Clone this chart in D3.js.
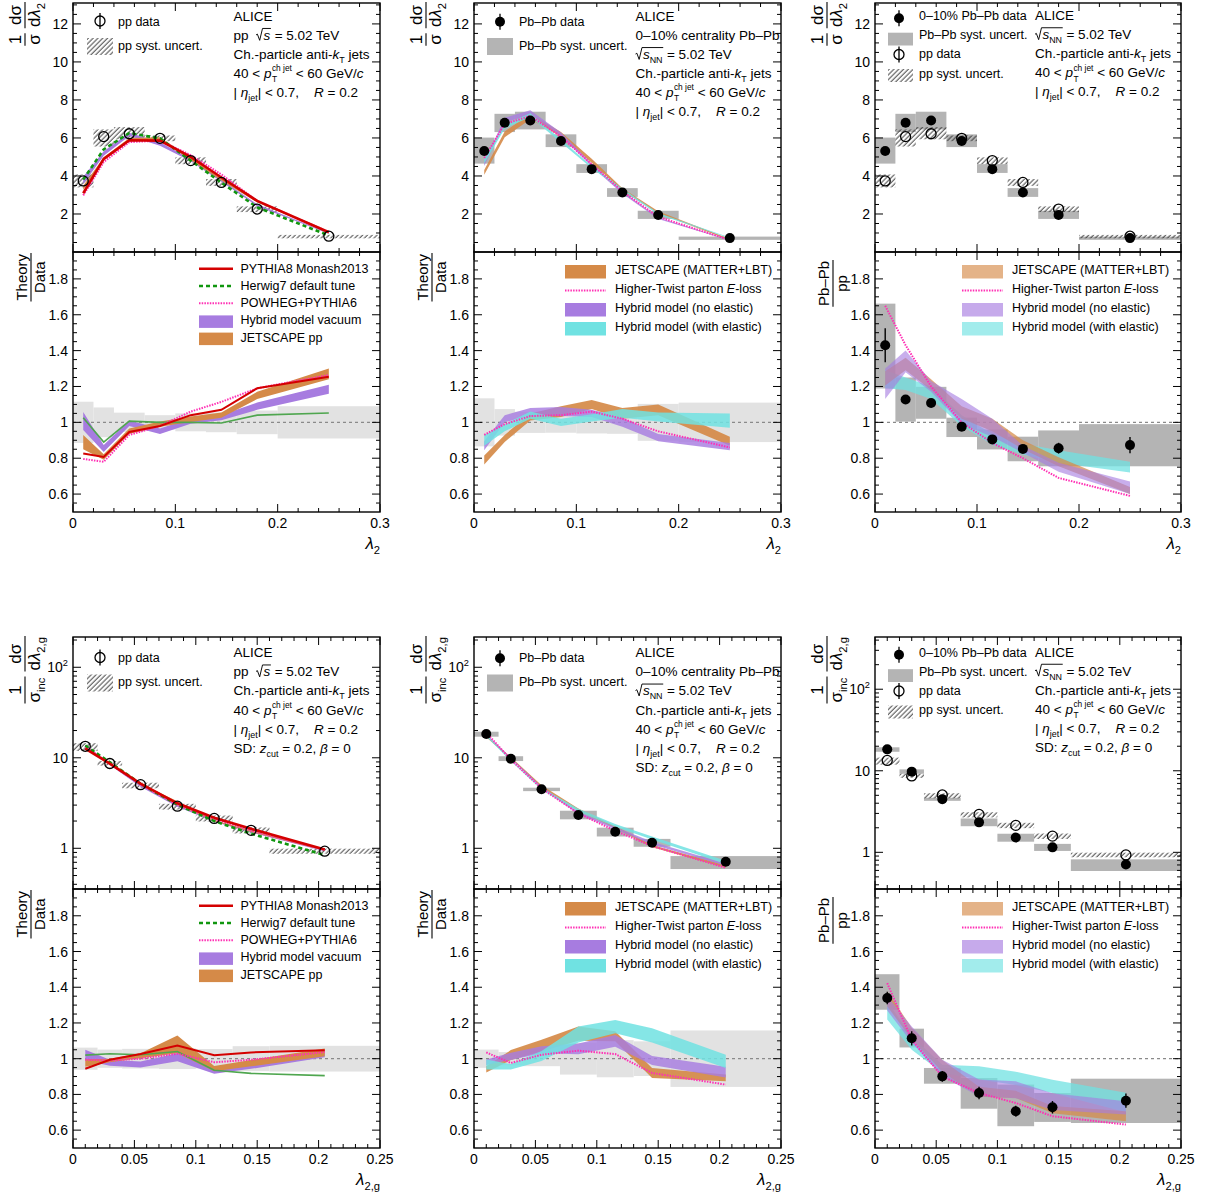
<!DOCTYPE html>
<html><head><meta charset="utf-8">
<script src="https://cdn.jsdelivr.net/npm/d3@7/dist/d3.min.js"></script>
<style>
html,body{margin:0;padding:0;background:#fff;}
text{font-family:"Liberation Sans",Arial,Helvetica,sans-serif;white-space:pre;fill:#000;}
</style></head><body>
<svg id="chart" width="1216" height="1195" xmlns="http://www.w3.org/2000/svg"></svg>
<script>
// ================= DATA: lambda_2 (top row) =================
const L2_X     = [0.01, 0.03, 0.055, 0.085, 0.115, 0.145, 0.18, 0.25];
const L2_EDGES = [0, 0.02, 0.04, 0.07, 0.10, 0.13, 0.16, 0.20, 0.30];
const L2_X_TICKS = [0, 0.1, 0.2, 0.3];
const L2_Y_TICKS = [2, 4, 6, 8, 10, 12];
const RATIO_Y_TICKS = [0.6, 0.8, 1, 1.2, 1.4, 1.6, 1.8];

const L2_PP        = [3.74, 6.07, 6.22, 5.98, 4.81, 3.66, 2.26, 0.83];
const L2_PP_SYS_LO = [3.40, 5.55, 5.93, 5.83, 4.62, 3.48, 2.10, 0.72];
const L2_PP_SYS_HI = [4.08, 6.45, 6.57, 6.13, 4.98, 3.84, 2.40, 0.90];
const L2_PBPB        = [5.31, 6.80, 6.92, 5.84, 4.36, 3.13, 1.95, 0.73];
const L2_PBPB_SYS_LO = [4.65, 6.31, 6.45, 5.52, 4.16, 2.90, 1.74, 0.64];
const L2_PBPB_SYS_HI = [6.02, 7.27, 7.38, 6.19, 4.62, 3.36, 2.17, 0.81];
const L2_PP_UNC   = [0.115, 0.083, 0.054, 0.040, 0.050, 0.055, 0.066, 0.090];
const L2_PBPB_UNC = [0.134, 0.074, 0.059, 0.058, 0.062, 0.064, 0.103, 0.110];

const L2_PYTHIA = [3.09, 4.90, 5.88, 5.86, 5.00, 3.92, 2.69, 1.04];
const L2_HERWIG = [3.81, 5.40, 6.26, 5.98, 4.81, 3.65, 2.35, 0.87];
const L2_POWHEG = [2.98, 4.73, 5.78, 5.86, 5.10, 4.08, 2.69, 1.05];
const L2_HYBVAC     = [3.77, 5.18, 6.19, 5.68, 4.84, 3.76, 2.46, 0.98];
const L2_HYBVAC_ERR = [0.19, 0.12, 0.09, 0.09, 0.07, 0.06, 0.05, 0.02];
const L2_JSPP       = [3.38, 4.90, 5.91, 5.97, 4.89, 3.81, 2.64, 1.06];
const L2_JSPP_ERR   = [0.11, 0.09, 0.09, 0.07, 0.06, 0.05, 0.04, 0.02];

const L2_PYTHIA_R = [0.826, 0.807, 0.946, 0.98, 1.04, 1.07, 1.19, 1.254];
const L2_HERWIG_R = [1.026, 0.89, 1.007, 1.0, 1.0, 0.996, 1.04, 1.052];
const L2_POWHEG_R = [0.796, 0.78, 0.93, 0.98, 1.06, 1.114, 1.19, 1.264];
const L2_HYBVAC_R     = [1.007, 0.854, 0.995, 0.95, 1.007, 1.026, 1.09, 1.185];
const L2_HYBVAC_R_ERR = [0.05, 0.02, 0.015, 0.015, 0.015, 0.015, 0.02, 0.025];
const L2_JSPP_R       = [0.89, 0.807, 0.95, 0.99, 1.017, 1.04, 1.15, 1.27];
const L2_JSPP_R_ERR   = [0.04, 0.015, 0.015, 0.015, 0.015, 0.015, 0.02, 0.03];

const L2_JSAA        = [4.19, 6.19, 7.13, 6.19, 4.80, 3.29, 2.09, 0.65];
const L2_JSAA_ERR    = [0.12, 0.15, 0.15, 0.12, 0.10, 0.07, 0.05, 0.03];
const L2_HT          = [4.94, 6.73, 7.16, 6.07, 4.62, 3.19, 1.85, 0.63];
const L2_HYBNOEL     = [4.62, 6.94, 7.34, 6.19, 4.58, 3.13, 1.78, 0.63];
const L2_HYBNOEL_ERR = [0.10, 0.12, 0.12, 0.10, 0.08, 0.06, 0.04, 0.02];
const L2_HYBEL       = [4.78, 6.60, 7.20, 5.84, 4.47, 3.29, 2.01, 0.74];
const L2_HYBEL_ERR   = [0.12, 0.10, 0.10, 0.08, 0.06, 0.05, 0.04, 0.02];

const L2_JSAA_R        = [0.79, 0.91, 1.03, 1.06, 1.10, 1.05, 1.07, 0.895];
const L2_JSAA_R_ERR    = [0.025, 0.02, 0.02, 0.03, 0.025, 0.03, 0.03, 0.025];
const L2_HT_R          = [0.93, 0.99, 1.035, 1.04, 1.06, 1.02, 0.95, 0.86];
const L2_HYBNOEL_R     = [0.87, 1.02, 1.06, 1.06, 1.05, 1.0, 0.915, 0.865];
const L2_HYBNOEL_R_ERR = [0.025, 0.02, 0.02, 0.025, 0.02, 0.025, 0.02, 0.02];
const L2_HYBEL_R       = [0.90, 0.97, 1.04, 1.0, 1.025, 1.05, 1.03, 1.01];
const L2_HYBEL_R_ERR   = [0.03, 0.02, 0.02, 0.02, 0.02, 0.025, 0.025, 0.04];

const L2_RAA        = [1.43, 1.127, 1.108, 0.976, 0.905, 0.852, 0.856, 0.873];
const L2_RAA_STAT   = [0.095, 0.022, 0.02, 0.02, 0.02, 0.02, 0.03, 0.045];
const L2_RAA_SYS_LO = [1.189, 1.004, 1.02, 0.918, 0.849, 0.783, 0.755, 0.755];
const L2_RAA_SYS_HI = [1.662, 1.25, 1.198, 1.026, 0.96, 0.92, 0.955, 0.99];
const L2_JSAA_RAA        = [1.245, 1.325, 1.21, 1.055, 0.985, 0.875, 0.78, 0.62];
const L2_JSAA_RAA_ERR    = [0.04, 0.035, 0.03, 0.035, 0.035, 0.025, 0.025, 0.02];
const L2_HT_RAA          = [1.65, 1.43, 1.2, 1.0, 0.885, 0.8, 0.69, 0.59];
const L2_HYBNOEL_RAA     = [1.215, 1.34, 1.2, 1.06, 0.97, 0.85, 0.75, 0.635];
const L2_HYBNOEL_RAA_ERR = [0.085, 0.06, 0.03, 0.07, 0.05, 0.02, 0.025, 0.035];
const L2_HYBEL_RAA       = [1.24, 1.215, 1.165, 1.01, 0.905, 0.85, 0.81, 0.75];
const L2_HYBEL_RAA_ERR   = [0.05, 0.035, 0.035, 0.03, 0.03, 0.03, 0.035, 0.03];

// ================= DATA: lambda_2,g (bottom row) =================
const L2G_X     = [0.01, 0.03, 0.055, 0.085, 0.115, 0.145, 0.205];
const L2G_EDGES = [0, 0.02, 0.04, 0.07, 0.10, 0.13, 0.16, 0.25];
const L2G_X_TICKS = [0, 0.05, 0.1, 0.15, 0.2, 0.25];
const LOG_Y_TICKS = [1, 10, 100];

const L2G_PP        = [13.4, 8.65, 5.05, 2.92, 2.14, 1.58, 0.93];
const L2G_PP_SYS_LO = [11.9, 8.2, 4.6, 2.68, 1.98, 1.46, 0.87];
const L2G_PP_SYS_HI = [14.5, 9.2, 5.3, 3.1, 2.3, 1.7, 0.99];
const L2G_PBPB        = [18.3, 9.76, 4.49, 2.33, 1.52, 1.15, 0.71];
const L2G_PBPB_SYS_LO = [17.1, 9.2, 4.28, 2.09, 1.35, 1.04, 0.59];
const L2G_PBPB_SYS_HI = [19.4, 10.4, 4.67, 2.6, 1.69, 1.27, 0.82];
const L2G_PP_UNC   = [0.062, 0.051, 0.055, 0.058, 0.054, 0.07, 0.072];
const L2G_PBPB_UNC = [0.051, 0.037, 0.042, 0.089, 0.104, 0.097, 0.158];

const L2G_PYTHIA = [12.65, 8.6, 5.18, 3.14, 2.18, 1.64, 0.97];
const L2G_HERWIG = [13.67, 8.89, 5.16, 3.04, 2.0, 1.45, 0.84];
const L2G_POWHEG = [13.32, 8.56, 5.05, 3.0, 2.1, 1.57, 0.96];
const L2G_HYBVAC     = [13.67, 8.45, 4.88, 2.94, 1.99, 1.52, 0.95];
const L2G_HYBVAC_ERR = [0.3, 0.15, 0.08, 0.06, 0.03, 0.03, 0.02];
const L2G_JSPP       = [13.07, 8.56, 5.14, 3.15, 2.02, 1.54, 0.96];
const L2G_JSPP_ERR   = [0.3, 0.1, 0.07, 0.15, 0.03, 0.03, 0.02];

const L2G_PYTHIA_R = [0.944, 0.994, 1.026, 1.074, 1.019, 1.035, 1.047];
const L2G_HERWIG_R = [1.02, 1.028, 1.022, 1.04, 0.935, 0.918, 0.905];
const L2G_POWHEG_R = [0.994, 0.99, 1.0, 1.028, 0.98, 0.994, 1.037];
const L2G_HYBVAC_R     = [1.02, 0.977, 0.967, 1.008, 0.932, 0.96, 1.02];
const L2G_HYBVAC_R_ERR = [0.03, 0.017, 0.017, 0.022, 0.016, 0.017, 0.012];
const L2G_JSPP_R       = [0.975, 0.99, 1.017, 1.08, 0.944, 0.975, 1.035];
const L2G_JSPP_R_ERR   = [0.02, 0.01, 0.014, 0.05, 0.015, 0.018, 0.022];

const L2G_JSAA        = [17.2, 9.96, 4.82, 2.66, 1.71, 1.06, 0.63];
const L2G_JSAA_ERR    = [0.3, 0.25, 0.15, 0.1, 0.05, 0.03, 0.02];
const L2G_HT          = [18.94, 9.53, 4.59, 2.43, 1.56, 1.06, 0.61];
const L2G_HYBNOEL     = [17.93, 9.89, 4.71, 2.46, 1.67, 1.14, 0.66];
const L2G_HYBNOEL_ERR = [0.35, 0.2, 0.1, 0.08, 0.05, 0.04, 0.02];
const L2G_HYBEL       = [17.7, 9.32, 4.56, 2.64, 1.79, 1.3, 0.7];
const L2G_HYBEL_ERR   = [0.5, 0.15, 0.12, 0.1, 0.06, 0.05, 0.03];

const L2G_JSAA_R        = [0.94, 1.02, 1.073, 1.14, 1.125, 0.92, 0.892];
const L2G_JSAA_R_ERR    = [0.017, 0.028, 0.033, 0.04, 0.028, 0.028, 0.019];
const L2G_HT_R          = [1.035, 0.976, 1.022, 1.045, 1.026, 0.92, 0.855];
const L2G_HYBNOEL_R     = [0.98, 1.013, 1.05, 1.055, 1.1, 0.99, 0.925];
const L2G_HYBNOEL_R_ERR = [0.015, 0.02, 0.02, 0.03, 0.033, 0.025, 0.03];
const L2G_HYBEL_R       = [0.967, 0.955, 1.015, 1.135, 1.18, 1.13, 0.985];
const L2G_HYBEL_R_ERR   = [0.028, 0.015, 0.028, 0.045, 0.037, 0.04, 0.037];

const L2G_RAA        = [1.34, 1.114, 0.901, 0.808, 0.706, 0.728, 0.765];
const L2G_RAA_STAT   = [0.035, 0.04, 0.03, 0.035, 0.03, 0.035, 0.04];
const L2G_RAA_SYS_LO = [1.274, 1.063, 0.86, 0.72, 0.622, 0.646, 0.64];
const L2G_RAA_SYS_HI = [1.473, 1.168, 0.948, 0.892, 0.855, 0.808, 0.888];
const L2G_JSAA_RAA        = [1.335, 1.14, 0.96, 0.815, 0.8, 0.715, 0.678];
const L2G_JSAA_RAA_ERR    = [0.042, 0.033, 0.033, 0.028, 0.02, 0.02, 0.028];
const L2G_HT_RAA          = [1.423, 1.106, 0.9, 0.808, 0.752, 0.678, 0.631];
const L2G_HYBNOEL_RAA     = [1.31, 1.135, 0.947, 0.836, 0.826, 0.76, 0.725];
const L2G_HYBNOEL_RAA_ERR = [0.04, 0.045, 0.047, 0.047, 0.047, 0.047, 0.037];
const L2G_HYBEL_RAA       = [1.27, 1.087, 0.943, 0.92, 0.89, 0.845, 0.755];
const L2G_HYBEL_RAA_ERR   = [0.05, 0.037, 0.023, 0.037, 0.037, 0.037, 0.055];

// ================= LAYOUT / STYLE =================
const COLS = [{l:73, r:380}, {l:474, r:781}, {l:875, r:1181}];
const ROWS = [{top:3, mid:252, bot:512, dy:0}, {top:637, mid:889, bot:1148, dy:2.5}];
const COL = {red:"#d40000", green:"#10960f", greenR:"#4fa64f", pink:"#ff2fb4",
  purple:"#a77ce0", orange:"#d58a48", cyan:"#70e2e2", gBand:"#e2e2e2", gBox:"#b4b4b4"};
const NB = "\u00a0";

const svg = d3.select("#chart");
const defs = svg.append("defs");
const pat = defs.append("pattern").attr("id","hatch").attr("patternUnits","userSpaceOnUse")
  .attr("width",3.4).attr("height",3.4).attr("patternTransform","rotate(45)");
pat.append("line").attr("x1",1).attr("y1",-1).attr("x2",1).attr("y2",5).attr("stroke","#222").attr("stroke-width",0.85);

function line(g,x1,y1,x2,y2,stroke="#000",w=1,dash=null){
  const l = g.append("line").attr("x1",x1).attr("y1",y1).attr("x2",x2).attr("y2",y2)
    .attr("stroke",stroke).attr("stroke-width",w);
  if (dash) l.attr("stroke-dasharray",dash);
  return l;
}
function stepRange(a,b,step){ const out=[]; const n=Math.round((b-a)/step); for(let i=0;i<=n;i++) out.push(+(a+i*step).toFixed(6)); return out; }
function notIn(arr, majors){ return arr.filter(v => !majors.some(m => Math.abs(m-v) < 1e-9)); }

// ---------- rich text ----------
function rich(g, x, y, parts, size) {
  let cx = x;
  const add = (t, xx, yy, sz, it) => {
    const el = g.append("text").attr("x", xx).attr("y", yy).attr("font-size", sz).text(t);
    if (it) el.attr("font-style","italic");
    return el;
  };
  const wid = el => el.node().getComputedTextLength();
  for (const p of parts) {
    if (p.sqrt) {
      const s = size, x0 = cx;
      const start = cx + 0.55*s;
      const end = rich(g, start, y, p.sqrt, size) + 0.05*s;
      g.append("path").attr("d", `M${x0},${y-0.36*s} L${x0+0.1*s},${y-0.42*s} L${x0+0.27*s},${y+0.04*s} L${x0+0.48*s},${y-0.84*s} L${end},${y-0.84*s}`)
        .attr("fill","none").attr("stroke","#000").attr("stroke-width",0.07*s);
      cx = end;
    } else if (p.subsup) {
      const a = add(p.subsup[0], cx+0.5, y + size*0.32, size*0.62, false);
      const b = add(p.subsup[1], cx+0.5, y - size*0.5, size*0.62, false);
      cx += Math.max(wid(a), wid(b)) + 0.5;
    } else if (p.sub) {
      const a = add(p.t, cx, y + size*0.3, size*0.66, p.i); cx += wid(a);
    } else if (p.sup) {
      const a = add(p.t, cx, y - size*0.42, size*0.66, p.i); cx += wid(a);
    } else {
      const a = add(p.t, cx, y, size, p.i); cx += wid(a);
    }
  }
  return cx;
}
function richAligned(g, x, y, parts, size, anchor) {
  const gg = g.append("g");
  const w = rich(gg, 0, 0, parts, size);
  const dx = anchor === "end" ? x - w : (anchor === "middle" ? x - w/2 : x);
  gg.attr("transform", `translate(${dx},${y})`);
  return gg;
}
function fracV(parent, x0, num, den, size) {
  const gn = parent.append("g"), gd = parent.append("g");
  const wn = rich(gn, 0, 0, num, size), wd = rich(gd, 0, 0, den, size);
  const w = Math.max(wn, wd) + size*0.12;
  gn.attr("transform", `translate(${x0 + (w-wn)/2},${-size*0.24})`);
  gd.attr("transform", `translate(${x0 + (w-wd)/2},${size*0.9})`);
  line(parent, x0, 0, x0+w, 0, "#000", 1.1);
  return x0 + w;
}
function yTitle(barX, topY, fracs, size) {
  const g = svg.append("g");
  let cx = 0;
  fracs.forEach((f,i) => { if (i>0) cx += size*0.3; cx = fracV(g, cx, f[0], f[1], size); });
  g.attr("transform", `translate(${barX},${topY + cx}) rotate(-90)`);
}

// ---------- panels ----------
let clipN = 0;
function makePanel(col, y0, y1, xDom, yType, yDom) {
  const x = d3.scaleLinear().domain(xDom).range([col.l, col.r]);
  const y = (yType === "log" ? d3.scaleLog() : d3.scaleLinear()).domain(yDom).range([y1, y0]);
  const id = "clip" + (clipN++);
  defs.append("clipPath").attr("id", id).append("rect").attr("x", col.l).attr("y", y0).attr("width", col.r-col.l).attr("height", y1-y0);
  const g = svg.append("g");
  const plot = g.append("g").attr("clip-path", `url(#${id})`);
  return {x, y, g, plot};
}
function boxes(p, edges, lo, hi, fill, op=1) {
  const data = lo.map((d,i) => ({x0:edges[i], x1:edges[i+1], lo:lo[i], hi:hi[i]}));
  p.plot.append("g").selectAll("rect").data(data).join("rect")
    .attr("x", d => p.x(d.x0)).attr("width", d => p.x(d.x1) - p.x(d.x0))
    .attr("y", d => p.y(d.hi)).attr("height", d => p.y(d.lo) - p.y(d.hi))
    .attr("fill", fill).attr("fill-opacity", op);
}
function relBoxes(p, edges, unc, fill) {
  const data = unc.map((u,i) => ({x0:edges[i], x1:edges[i+1], lo:1-u, hi:1+u}));
  p.plot.append("g").selectAll("rect").data(data).join("rect")
    .attr("x", d => p.x(d.x0)).attr("width", d => p.x(d.x1) - p.x(d.x0))
    .attr("y", d => p.y(d.hi)).attr("height", d => p.y(d.lo) - p.y(d.hi)).attr("fill", fill);
}
function band(p, xs, c, e, color, op=1) {
  const data = xs.map((xv,i) => ({x:xv, lo:c[i]-e[i], hi:c[i]+e[i]}));
  p.plot.append("path").datum(data)
    .attr("d", d3.area().x(d => p.x(d.x)).y0(d => p.y(d.lo)).y1(d => p.y(d.hi)))
    .attr("fill", color).attr("fill-opacity", op);
}
function curve(p, xs, v, color, w, dash) {
  const data = xs.map((xv,i) => ({x:xv, y:v[i]}));
  const pth = p.plot.append("path").datum(data)
    .attr("d", d3.line().x(d => p.x(d.x)).y(d => p.y(d.y)))
    .attr("fill","none").attr("stroke", color).attr("stroke-width", w);
  if (dash) pth.attr("stroke-dasharray", dash);
}
function points(p, xs, v, err, filled) {
  if (err) xs.forEach((xv,i) => line(p.plot, p.x(xv), p.y(v[i]-err[i]), p.x(xv), p.y(v[i]+err[i]), "#000", 1.4));
  p.plot.append("g").selectAll("circle").data(xs.map((xv,i)=>({x:xv,y:v[i]}))).join("circle")
    .attr("cx", d => p.x(d.x)).attr("cy", d => p.y(d.y)).attr("r", 5)
    .attr("fill", filled ? "#000" : "none").attr("stroke","#000").attr("stroke-width", filled ? 0 : 1.3);
}
function unityLine(p) {
  const [xl,xr] = p.x.range();
  line(p.plot, xl, p.y(1), xr, p.y(1), "#8a8a8a", 1.2, "3,3");
}
function drawAxes(p, o) {
  const g = p.g;
  const [xl, xr] = p.x.range(), [yb, yt] = p.y.range();
  const TL = 8, TS = 4;
  o.xMaj.forEach(v => { const px = p.x(v); line(g, px, yb, px, yb-TL); line(g, px, yt, px, yt+TL); });
  o.xMin.forEach(v => { const px = p.x(v); line(g, px, yb, px, yb-TS); line(g, px, yt, px, yt+TS); });
  o.yMaj.forEach(v => { const py = p.y(v); line(g, xl, py, xl+TL, py); line(g, xr, py, xr-TL, py); });
  o.yMin.forEach(v => { const py = p.y(v); line(g, xl, py, xl+TS, py); line(g, xr, py, xr-TS, py); });
  g.append("rect").attr("x", xl).attr("y", yt).attr("width", xr-xl).attr("height", yb-yt)
    .attr("fill","none").attr("stroke","#000").attr("stroke-width",1.4);
  o.yLab.forEach(([v, parts]) => richAligned(g, xl-5, p.y(v)+5, parts, 14, "end"));
  if (o.xLab) o.xLab.forEach(v => richAligned(g, p.x(v), yb+16, [{t:String(v)}], 14, "middle"));
  if (o.xTitle) richAligned(g, xr, yb+37, o.xTitle, 17, "end");
}

// axis option sets
const TOP_XMIN = notIn(stepRange(0, 0.3, 0.02), L2_X_TICKS);
const BOT_XMIN = notIn(stepRange(0, 0.25, 0.01), L2G_X_TICKS);
const LIN_YMIN = notIn(stepRange(0.5, 13, 0.5), L2_Y_TICKS);
const RAT_YMIN = notIn(stepRange(0.5, 1.95, 0.05), RATIO_Y_TICKS).filter(v => v > 0.5 && v < 1.95);
const LOG_YMIN = [0.4,0.5,0.6,0.7,0.8,0.9,2,3,4,5,6,7,8,9,20,30,40,50,60,70,80,90,200,300,400];
const LIN_LAB = L2_Y_TICKS.map(v => [v, [{t:String(v)}]]);
const RAT_LAB = RATIO_Y_TICKS.map(v => [v, [{t: v === 1 ? "1" : v.toFixed(1)}]]);
const LOG_LAB = [[1,[{t:"1"}]],[10,[{t:"10"}]],[100,[{t:"10"},{t:"2",sup:1}]]];
const TOP_UP  = {xMaj:L2_X_TICKS, xMin:TOP_XMIN, yMaj:L2_Y_TICKS, yMin:LIN_YMIN, yLab:LIN_LAB};
const TOP_LOW = {xMaj:L2_X_TICKS, xMin:TOP_XMIN, yMaj:RATIO_Y_TICKS, yMin:RAT_YMIN, yLab:RAT_LAB,
  xLab:L2_X_TICKS, xTitle:[{t:"λ",i:1},{t:"2",sub:1}]};
const BOT_LOW = {xMaj:L2G_X_TICKS, xMin:BOT_XMIN, yMaj:RATIO_Y_TICKS, yMin:RAT_YMIN, yLab:RAT_LAB,
  xLab:L2G_X_TICKS, xTitle:[{t:"λ",i:1},{t:"2,g",sub:1}]};
function logOpts(dom){ return {xMaj:L2G_X_TICKS, xMin:BOT_XMIN, yMaj:LOG_Y_TICKS, yMin:LOG_YMIN.filter(v=>v>dom[0]&&v<dom[1]), yLab:LOG_LAB}; }

// ---------- text blocks ----------
const T_ALICE = [{t:"ALICE"}];
const T_PP = [{t:"pp"+NB+NB}, {sqrt:[{t:"s",i:1}]}, {t:" = 5.02 TeV"}];
const T_SNN = [{sqrt:[{t:"s",i:1},{t:"NN",sub:1}]}, {t:" = 5.02 TeV"}];
const T_CENT = [{t:"0–10% centrality Pb–Pb"}];
const T_CH = [{t:"Ch.-particle anti-"},{t:"k",i:1},{t:"T",sub:1},{t:" jets"}];
const T_PT = [{t:"40 < "},{t:"p",i:1},{subsup:["T","ch jet"]},{t:" < 60 GeV/"},{t:"c",i:1}];
const T_ETA = [{t:"| "},{t:"η",i:1},{t:"jet",sub:1},{t:"| < 0.7,"+NB+NB+NB+NB},{t:"R",i:1},{t:" = 0.2"}];
const T_SD = [{t:"SD: "},{t:"z",i:1},{t:"cut",sub:1},{t:" = 0.2, "},{t:"β",i:1},{t:" = 0"}];
function block(x, y, lines, step=19.1, size=13.5) {
  const g = svg.append("g");
  lines.forEach((l,i) => rich(g, x, y + i*step, l, size));
}

// ---------- legends ----------
function legOpen(x, y) { const g = svg.append("g");
  g.append("circle").attr("cx",x).attr("cy",y).attr("r",5).attr("fill","none").attr("stroke","#000").attr("stroke-width",1.3);
  line(g, x, y-8, x, y+8, "#000", 1.3); }
function legFilled(x, y) { const g = svg.append("g");
  line(g, x, y-8, x, y+8, "#000", 1.3);
  g.append("circle").attr("cx",x).attr("cy",y).attr("r",5).attr("fill","#000"); }
function legRect(x0, y0, x1, y1, fill, op=1) {
  svg.append("rect").attr("x",x0).attr("y",y0).attr("width",x1-x0).attr("height",y1-y0).attr("fill",fill).attr("fill-opacity",op);
}
function legText(x, y, parts, size=12.5) { rich(svg.append("g"), x, y, parts, size); }

const PP_MODELS = ["PYTHIA8 Monash2013", "Herwig7 default tune", "POWHEG+PYTHIA6", "Hybrid model vacuum", "JETSCAPE pp"];
const AA_MODELS = [[{t:"JETSCAPE (MATTER+LBT)"}], [{t:"Higher-Twist parton "},{t:"E",i:1},{t:"-loss"}],
  [{t:"Hybrid model (no elastic)"}], [{t:"Hybrid model (with elastic)"}]];

function ppModelLegend(row) {
  const y0 = row.mid + 20.8, st = 17.2, x0 = 199, x1 = 233, tx = 240.5;
  line(svg, x0, y0-4, x1, y0-4, COL.red, 2.6);
  line(svg, x0, y0+st-4, x1, y0+st-4, COL.green, 2.6, "4,3");
  line(svg, x0, y0+2*st-4, x1, y0+2*st-4, COL.pink, 2, "1.5,1.2");
  legRect(x0, y0+3*st-9, x1, y0+3*st+3.5, COL.purple);
  legRect(x0, y0+4*st-9, x1, y0+4*st+3.5, COL.orange);
  PP_MODELS.forEach((t,i) => legText(tx, y0 + i*st, [{t}]));
}
function aaModelLegend(row, col, op) {
  const x0 = col.l + 91, x1 = col.l + 132, tx = col.l + 141, y0 = row.mid + 21.5, st = 19;
  legRect(x0, y0-8.5, x1, y0+5, COL.orange, op);
  line(svg, x0, y0+st-2, x1, y0+st-2, COL.pink, 2, "1.5,1.2");
  legRect(x0, y0+2*st-8.5, x1, y0+2*st+5, COL.purple, op);
  legRect(x0, y0+3*st-8.5, x1, y0+3*st+5, COL.cyan, op);
  AA_MODELS.forEach((parts,i) => legText(tx, y0 + i*st, parts));
}

// ================= DRAW =================
[0,1].forEach(ri => {
  const R = ROWS[ri];
  const top = ri === 0;
  const X = top ? L2_X : L2G_X, E = top ? L2_EDGES : L2G_EDGES;
  const xDom = top ? [0,0.3] : [0,0.25];
  const upType = top ? "lin" : "log";
  const upDom12 = top ? [0,13.1] : [0.355,216];
  const upDom3 = top ? [0,13.1] : [0.355,437];
  const upOpts12 = top ? TOP_UP : logOpts(upDom12);
  const upOpts3 = top ? TOP_UP : logOpts(upDom3);
  const lowOpts = top ? TOP_LOW : BOT_LOW;
  const D = top ? {
      PP:L2_PP, PPL:L2_PP_SYS_LO, PPH:L2_PP_SYS_HI, AA:L2_PBPB, AAL:L2_PBPB_SYS_LO, AAH:L2_PBPB_SYS_HI,
      PPU:L2_PP_UNC, AAU:L2_PBPB_UNC, PY:L2_PYTHIA, HW:L2_HERWIG, PW:L2_POWHEG, HV:L2_HYBVAC, HVE:L2_HYBVAC_ERR,
      JP:L2_JSPP, JPE:L2_JSPP_ERR, PYR:L2_PYTHIA_R, HWR:L2_HERWIG_R, PWR:L2_POWHEG_R, HVR:L2_HYBVAC_R, HVRE:L2_HYBVAC_R_ERR,
      JPR:L2_JSPP_R, JPRE:L2_JSPP_R_ERR, JA:L2_JSAA, JAE:L2_JSAA_ERR, HT:L2_HT, HN:L2_HYBNOEL, HNE:L2_HYBNOEL_ERR,
      HE:L2_HYBEL, HEE:L2_HYBEL_ERR, JAR:L2_JSAA_R, JARE:L2_JSAA_R_ERR, HTR:L2_HT_R, HNR:L2_HYBNOEL_R, HNRE:L2_HYBNOEL_R_ERR,
      HER:L2_HYBEL_R, HERE:L2_HYBEL_R_ERR, RAA:L2_RAA, RST:L2_RAA_STAT, RL:L2_RAA_SYS_LO, RH:L2_RAA_SYS_HI,
      JAA:L2_JSAA_RAA, JAAE:L2_JSAA_RAA_ERR, HTA:L2_HT_RAA, HNA:L2_HYBNOEL_RAA, HNAE:L2_HYBNOEL_RAA_ERR, HEA:L2_HYBEL_RAA, HEAE:L2_HYBEL_RAA_ERR
    } : {
      PP:L2G_PP, PPL:L2G_PP_SYS_LO, PPH:L2G_PP_SYS_HI, AA:L2G_PBPB, AAL:L2G_PBPB_SYS_LO, AAH:L2G_PBPB_SYS_HI,
      PPU:L2G_PP_UNC, AAU:L2G_PBPB_UNC, PY:L2G_PYTHIA, HW:L2G_HERWIG, PW:L2G_POWHEG, HV:L2G_HYBVAC, HVE:L2G_HYBVAC_ERR,
      JP:L2G_JSPP, JPE:L2G_JSPP_ERR, PYR:L2G_PYTHIA_R, HWR:L2G_HERWIG_R, PWR:L2G_POWHEG_R, HVR:L2G_HYBVAC_R, HVRE:L2G_HYBVAC_R_ERR,
      JPR:L2G_JSPP_R, JPRE:L2G_JSPP_R_ERR, JA:L2G_JSAA, JAE:L2G_JSAA_ERR, HT:L2G_HT, HN:L2G_HYBNOEL, HNE:L2G_HYBNOEL_ERR,
      HE:L2G_HYBEL, HEE:L2G_HYBEL_ERR, JAR:L2G_JSAA_R, JARE:L2G_JSAA_R_ERR, HTR:L2G_HT_R, HNR:L2G_HYBNOEL_R, HNRE:L2G_HYBNOEL_R_ERR,
      HER:L2G_HYBEL_R, HERE:L2G_HYBEL_R_ERR, RAA:L2G_RAA, RST:L2G_RAA_STAT, RL:L2G_RAA_SYS_LO, RH:L2G_RAA_SYS_HI,
      JAA:L2G_JSAA_RAA, JAAE:L2G_JSAA_RAA_ERR, HTA:L2G_HT_RAA, HNA:L2G_HYBNOEL_RAA, HNAE:L2G_HYBNOEL_RAA_ERR, HEA:L2G_HYBEL_RAA, HEAE:L2G_HYBEL_RAA_ERR
    };

  // ---- column 1: pp ----
  {
    const p = makePanel(COLS[0], R.top, R.mid, xDom, upType, upDom12);
    boxes(p, E, D.PPL, D.PPH, "url(#hatch)");
    band(p, X, D.HV, D.HVE, COL.purple);
    band(p, X, D.JP, D.JPE, COL.orange);
    curve(p, X, D.PW, COL.pink, 2, "1.5,1.2");
    curve(p, X, D.HW, COL.green, 2.6, "4,3");
    curve(p, X, D.PY, COL.red, 2.6);
    points(p, X, D.PP, null, false);
    drawAxes(p, upOpts12);
    const q = makePanel(COLS[0], R.mid, R.bot, xDom, "lin", [0.5,1.95]);
    relBoxes(q, E, D.PPU, COL.gBand);
    unityLine(q);
    band(q, X, D.HVR, D.HVRE, COL.purple);
    band(q, X, D.JPR, D.JPRE, COL.orange);
    curve(q, X, D.HWR, COL.greenR, 1.6);
    curve(q, X, D.PWR, COL.pink, 2, "1.5,1.2");
    curve(q, X, D.PYR, COL.red, 2);
    drawAxes(q, lowOpts);
  }
  // ---- column 2: Pb-Pb ----
  {
    const p = makePanel(COLS[1], R.top, R.mid, xDom, upType, upDom12);
    boxes(p, E, D.AAL, D.AAH, COL.gBox);
    band(p, X, D.JA, D.JAE, COL.orange, 0.9);
    band(p, X, D.HN, D.HNE, COL.purple, 0.8);
    band(p, X, D.HE, D.HEE, COL.cyan, 0.85);
    curve(p, X, D.HT, COL.pink, 2, "1.5,1.2");
    points(p, X, D.AA, null, true);
    drawAxes(p, upOpts12);
    const q = makePanel(COLS[1], R.mid, R.bot, xDom, "lin", [0.5,1.95]);
    relBoxes(q, E, D.AAU, COL.gBand);
    unityLine(q);
    band(q, X, D.JAR, D.JARE, COL.orange, 0.92);
    band(q, X, D.HNR, D.HNRE, COL.purple, 0.82);
    band(q, X, D.HER, D.HERE, COL.cyan, 0.85);
    curve(q, X, D.HTR, COL.pink, 2, "1.5,1.2");
    drawAxes(q, lowOpts);
  }
  // ---- column 3: Pb-Pb vs pp ----
  {
    const p = makePanel(COLS[2], R.top, R.mid, xDom, upType, upDom3);
    boxes(p, E, D.AAL, D.AAH, COL.gBox);
    boxes(p, E, D.PPL, D.PPH, "url(#hatch)");
    points(p, X, D.AA, null, true);
    points(p, X, D.PP, null, false);
    drawAxes(p, upOpts3);
    const q = makePanel(COLS[2], R.mid, R.bot, xDom, "lin", [0.5,1.95]);
    boxes(q, E, D.RL, D.RH, COL.gBox);
    unityLine(q);
    band(q, X, D.HEA, D.HEAE, COL.cyan, 0.75);
    band(q, X, D.JAA, D.JAAE, COL.orange, 0.72);
    band(q, X, D.HNA, D.HNAE, COL.purple, 0.62);
    curve(q, X, D.HTA, COL.pink, 2, "1.5,1.2");
    points(q, X, D.RAA, D.RST, true);
    drawAxes(q, lowOpts);
  }

  // ---- axis titles ----
  const upFr = top
    ? [[[{t:"1"}],[{t:"σ"}]], [[{t:"dσ"}],[{t:"d"},{t:"λ",i:1},{t:"2",sub:1}]]]
    : [[[{t:"1"}],[{t:"σ"},{t:"inc",sub:1}]], [[{t:"dσ"}],[{t:"d"},{t:"λ",i:1},{t:"2,g",sub:1}]]];
  COLS.forEach(c => yTitle(c.l - 48, R.top - 1, upFr, 17));
  yTitle(COLS[0].l - 42, R.mid + 1, [[[{t:"Theory"}],[{t:"Data"}]]], 15);
  yTitle(COLS[1].l - 42, R.mid + 1, [[[{t:"Theory"}],[{t:"Data"}]]], 15);
  yTitle(COLS[2].l - 42, R.mid + 8, [[[{t:"Pb–Pb"}],[{t:"pp"}]]], 15);

  // ---- legends & text ----
  const dy = R.dy, T = R.top;
  // col1
  legOpen(100, T+18+dy); legText(118, T+22.5+dy, [{t:"pp data"}]);
  legRect(87, T+35+dy, 113, T+52+dy, "url(#hatch)"); legText(118, T+46.5+dy, [{t:"pp syst. uncert."}]);
  block(233.5, T+17.7+dy, top ? [T_ALICE, T_PP, T_CH, T_PT, T_ETA] : [T_ALICE, T_PP, T_CH, T_PT, T_ETA, T_SD]);
  // col2
  legFilled(500, T+18.7+dy); legText(519, T+22.5+dy, [{t:"Pb–Pb data"}]);
  legRect(487, T+35+dy, 513, T+52+dy, COL.gBox); legText(519, T+46.5+dy, [{t:"Pb–Pb syst. uncert."}]);
  block(635.5, T+17.7+dy, top ? [T_ALICE, T_CENT, T_SNN, T_CH, T_PT, T_ETA] : [T_ALICE, T_CENT, T_SNN, T_CH, T_PT, T_ETA, T_SD]);
  // col3
  legFilled(899, T+15.3+dy); legText(919, T+17+dy, [{t:"0–10% Pb–Pb data"}]);
  legRect(888, T+29.7+dy, 913, T+42.5+dy, COL.gBox); legText(919, T+36+dy, [{t:"Pb–Pb syst. uncert."}]);
  legOpen(899, T+51.5+dy); legText(919, T+55+dy, [{t:"pp data"}]);
  legRect(888, T+66+dy, 913, T+79+dy, "url(#hatch)"); legText(919, T+74.5+dy, [{t:"pp syst. uncert."}]);
  block(1035, T+17+dy, top ? [T_ALICE, T_SNN, T_CH, T_PT, T_ETA] : [T_ALICE, T_SNN, T_CH, T_PT, T_ETA, T_SD]);
  // lower legends
  ppModelLegend(R);
  aaModelLegend(R, COLS[1], 1);
  aaModelLegend(R, {l:COLS[2].l - 4}, 0.65);
});
</script>
</body></html>
